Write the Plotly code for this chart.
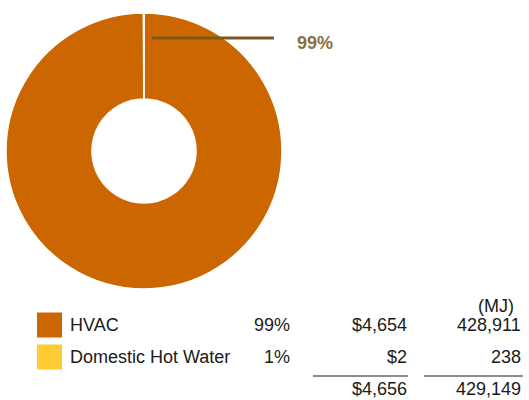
import plotly.graph_objects as go

# End uses and their annual totals
categories = ["HVAC", "Domestic Hot Water"]
energy_mj = [428911, 238]
cost_usd = [4654, 2]
share_labels = ["99%", "1%"]
colors = ["#CC6600", "#FFCC33"]

W, H = 529, 400

fig = go.Figure()

fig.add_trace(go.Pie(
    labels=categories,
    values=energy_mj,
    hole=0.377,
    sort=False,
    direction="clockwise",
    rotation=0,
    textinfo="none",
    hoverinfo="label+percent",
    marker=dict(colors=colors, line=dict(color="white", width=1.5)),
    domain=dict(x=[6 / W, 282 / W], y=[(H - 289) / H, (H - 13) / H]),
    showlegend=False,
))


def px(x):
    return x / W


def py(y):
    return 1 - y / H


shapes = []
annotations = []

# Callout for the dominant slice
shapes.append(dict(type="line", xref="paper", yref="paper",
                   x0=px(152), x1=px(274), y0=py(38), y1=py(38),
                   line=dict(color="#7A5A1C", width=3)))
annotations.append(dict(x=px(295), y=py(43), xref="paper", yref="paper",
                        text="<b>" + share_labels[0] + "</b>", showarrow=False,
                        xanchor="left", yanchor="middle",
                        font=dict(family="Liberation Sans, Arial", size=18, color="#8A7040")))

font = dict(family="Liberation Sans, Arial", size=18, color="#1a1a1a")

# Legend table
annotations.append(dict(x=px(496), y=py(306), xref="paper", yref="paper", text="(MJ)",
                        showarrow=False, xanchor="center", yanchor="middle", font=font))
row_y = [325, 357]
for i, name in enumerate(categories):
    y = row_y[i]
    shapes.append(dict(type="rect", xref="paper", yref="paper",
                       x0=px(37), x1=px(62), y0=py(y - 12.5), y1=py(y + 12.5),
                       fillcolor=colors[i], line=dict(width=0)))
    annotations.append(dict(x=px(68), y=py(y), xref="paper", yref="paper", text=name,
                            showarrow=False, xanchor="left", yanchor="middle", font=font))
    annotations.append(dict(x=px(292), y=py(y), xref="paper", yref="paper",
                            text=share_labels[i],
                            showarrow=False, xanchor="right", yanchor="middle", font=font))
    annotations.append(dict(x=px(409), y=py(y), xref="paper", yref="paper",
                            text="${:,}".format(cost_usd[i]),
                            showarrow=False, xanchor="right", yanchor="middle", font=font))
    annotations.append(dict(x=px(523), y=py(y), xref="paper", yref="paper",
                            text="{:,}".format(energy_mj[i]),
                            showarrow=False, xanchor="right", yanchor="middle", font=font))

# Totals
for x0, x1 in [(313, 408), (424, 523)]:
    shapes.append(dict(type="line", xref="paper", yref="paper",
                       x0=px(x0), x1=px(x1), y0=py(376), y1=py(376),
                       line=dict(color="#1a1a1a", width=1.2)))
annotations.append(dict(x=px(409), y=py(389), xref="paper", yref="paper",
                        text="${:,}".format(sum(cost_usd)),
                        showarrow=False, xanchor="right", yanchor="middle", font=font))
annotations.append(dict(x=px(523), y=py(389), xref="paper", yref="paper",
                        text="{:,}".format(sum(energy_mj)),
                        showarrow=False, xanchor="right", yanchor="middle", font=font))

fig.update_layout(
    width=W, height=H,
    margin=dict(l=0, r=0, t=0, b=0),
    paper_bgcolor="white", plot_bgcolor="white",
    shapes=shapes, annotations=annotations,
)

fig.write_html("out.html")
